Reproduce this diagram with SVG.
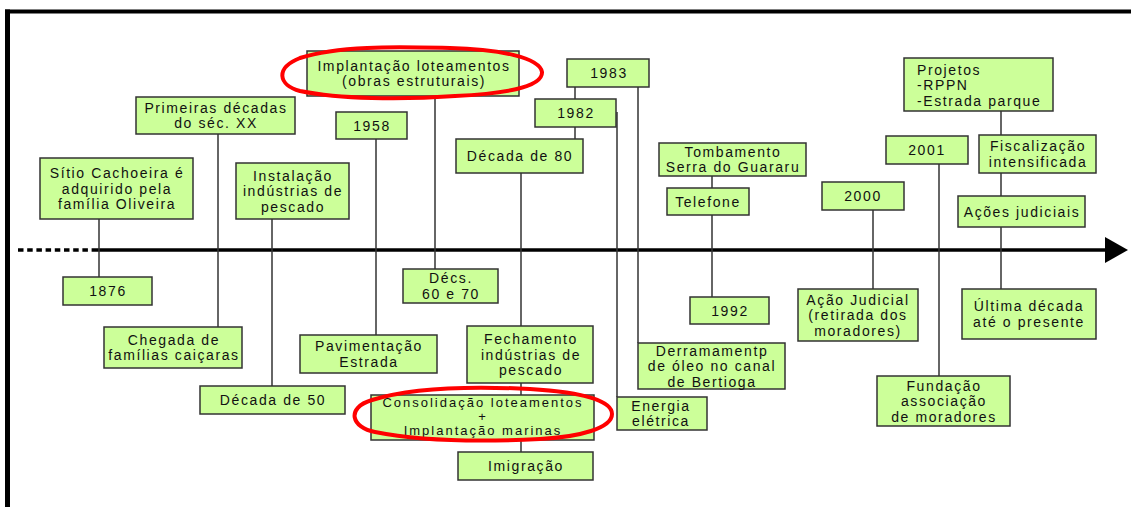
<svg xmlns="http://www.w3.org/2000/svg" width="1131" height="507" viewBox="0 0 1131 507">
<style>
.box rect{fill:#CCFF99;stroke:#333;stroke-width:1.5}
.box text{font-family:"Liberation Sans",Arial,sans-serif;font-size:14px;letter-spacing:1.6px;fill:#111;text-anchor:middle}
.box text.l{text-anchor:start}
.box text.s{font-size:13px;letter-spacing:2px}
#connectors line{stroke:#333;stroke-width:1.5}
.red{fill:none;stroke:#FF0000;stroke-width:4}
</style>
<rect width="1131" height="507" fill="#fff"/>
<g id="frame">
<line x1="7.5" y1="9.5" x2="7.5" y2="507" stroke="#000" stroke-width="5"/>
<line x1="5" y1="11.5" x2="1131" y2="11.5" stroke="#000" stroke-width="4"/>
</g>
<g id="axis">
<line x1="18" y1="250" x2="92" y2="250" stroke="#000" stroke-width="3.5" stroke-dasharray="5.5 3.7"/>
<line x1="92" y1="250" x2="1107" y2="250" stroke="#000" stroke-width="3.5"/>
<polygon points="1105,237 1128,250 1105,263" fill="#000"/>
</g>
<g id="connectors">
<line x1="99" y1="219" x2="99" y2="277"/>
<line x1="218" y1="134" x2="218" y2="327"/>
<line x1="272" y1="219" x2="272" y2="386"/>
<line x1="376" y1="139" x2="376" y2="335"/>
<line x1="435" y1="96" x2="435" y2="269"/>
<line x1="521" y1="173" x2="521" y2="326"/>
<line x1="521" y1="383" x2="521" y2="395"/>
<line x1="521" y1="440" x2="521" y2="452"/>
<line x1="575" y1="87" x2="575" y2="99"/>
<line x1="575" y1="127" x2="575" y2="139"/>
<line x1="617" y1="112" x2="617" y2="397"/>
<line x1="638" y1="87" x2="638" y2="343"/>
<line x1="712" y1="176" x2="712" y2="188"/>
<line x1="712" y1="215" x2="712" y2="297"/>
<line x1="873" y1="210" x2="873" y2="289"/>
<line x1="939" y1="164" x2="939" y2="376"/>
<line x1="1001" y1="111" x2="1001" y2="135"/>
<line x1="1001" y1="173" x2="1001" y2="196"/>
<line x1="1001" y1="227" x2="1001" y2="289"/>
</g>
<g id="n-sitio" class="box"><rect x="40" y="158" width="153" height="61"/><text x="117" y="178">Sítio Cachoeira é</text><text x="117" y="193.5">adquirido pela</text><text x="117" y="209">família Oliveira</text></g>
<g id="n-1876" class="box"><rect x="63" y="277" width="89" height="28"/><text x="108" y="296">1876</text></g>
<g id="n-primeiras" class="box"><rect x="136" y="97" width="159" height="37"/><text x="216" y="112.75">Primeiras décadas</text><text x="216" y="128.25">do séc. XX</text></g>
<g id="n-chegada" class="box"><rect x="104" y="327" width="138" height="41"/><text x="174" y="344.75">Chegada de</text><text x="174" y="360.25">famílias caiçaras</text></g>
<g id="n-instalacao" class="box"><rect x="236" y="163" width="113" height="56"/><text x="293" y="180.5">Instalação</text><text x="293" y="196">indústrias de</text><text x="293" y="211.5">pescado</text></g>
<g id="n-decada50" class="box"><rect x="200" y="386" width="145" height="28"/><text x="273" y="405">Década de 50</text></g>
<g id="n-1958" class="box"><rect x="336" y="112" width="71" height="27"/><text x="372" y="130.5">1958</text></g>
<g id="n-pavimentacao" class="box"><rect x="300" y="335" width="137" height="38"/><text x="369" y="351.25">Pavimentação</text><text x="369" y="366.75">Estrada</text></g>
<g id="n-implantacao" class="box"><rect x="307" y="51" width="212" height="45"/><text x="414" y="70.75">Implantação loteamentos</text><text x="414" y="86.25">(obras estruturais)</text></g>
<g id="n-decs" class="box"><rect x="403" y="269" width="95" height="34"/><text x="451" y="283.25">Décs.</text><text x="451" y="298.75">60 e 70</text></g>
<g id="n-decada80" class="box"><rect x="456" y="139" width="127" height="34"/><text x="520" y="161">Década de 80</text></g>
<g id="n-fechamento" class="box"><rect x="467" y="326" width="126" height="57"/><text x="531" y="344">Fechamento</text><text x="531" y="359.5">indústrias de</text><text x="531" y="375">pescado</text></g>
<g id="n-consolidacao" class="box"><rect x="371" y="395" width="223" height="45"/><text class="s" x="483" y="406.5">Consolidação loteamentos</text><text class="s" x="483" y="420.5">+</text><text class="s" x="483" y="434.5">Implantação marinas</text></g>
<g id="n-imigracao" class="box"><rect x="458" y="452" width="135" height="28"/><text x="526" y="471">Imigração</text></g>
<g id="n-1983" class="box"><rect x="567" y="59" width="82" height="28"/><text x="609" y="78">1983</text></g>
<g id="n-1982" class="box"><rect x="535" y="99" width="81" height="28"/><text x="576" y="118">1982</text></g>
<g id="n-energia" class="box"><rect x="617" y="397" width="90" height="33"/><text x="661" y="410.75">Energia</text><text x="661" y="426.25">elétrica</text></g>
<g id="n-derramamento" class="box"><rect x="638" y="343" width="147" height="46"/><text x="712" y="355.5">Derramamentp</text><text x="712" y="371">de óleo no canal</text><text x="712" y="386.5">de Bertioga</text></g>
<g id="n-tombamento" class="box"><rect x="659" y="143" width="147" height="33"/><text x="733" y="156.75">Tombamento</text><text x="733" y="172.25">Serra do Guararu</text></g>
<g id="n-telefone" class="box"><rect x="667" y="188" width="82" height="27"/><text x="708" y="206.5">Telefone</text></g>
<g id="n-1992" class="box"><rect x="690" y="297" width="79" height="27"/><text x="730" y="315.5">1992</text></g>
<g id="n-2000" class="box"><rect x="822" y="182" width="82" height="28"/><text x="863" y="201">2000</text></g>
<g id="n-acao" class="box"><rect x="798" y="289" width="120" height="52"/><text x="858" y="304.5">Ação Judicial</text><text x="858" y="320">(retirada dos</text><text x="858" y="335.5">moradores)</text></g>
<g id="n-2001" class="box"><rect x="886" y="136" width="82" height="28"/><text x="927" y="155">2001</text></g>
<g id="n-fundacao" class="box"><rect x="877" y="376" width="133" height="50"/><text x="944" y="390.5">Fundação</text><text x="944" y="406">associação</text><text x="944" y="421.5">de moradores</text></g>
<g id="n-projetos" class="box"><rect x="904" y="58" width="149" height="53"/><text class="l" x="917" y="74.5">Projetos</text><text class="l" x="917" y="90">-RPPN</text><text class="l" x="917" y="105.5">-Estrada parque</text></g>
<g id="n-fiscalizacao" class="box"><rect x="979" y="135" width="117" height="38"/><text x="1038" y="151.25">Fiscalização</text><text x="1038" y="166.75">intensificada</text></g>
<g id="n-acoes" class="box"><rect x="958" y="196" width="127" height="31"/><text x="1022" y="216.5">Ações judiciais</text></g>
<g id="n-ultima" class="box"><rect x="962" y="289" width="134" height="50"/><text x="1029" y="311.25">Última década</text><text x="1029" y="326.75">até o presente</text></g>
<path class="red" d="M300,58 C340,45 400,47 450,48 C500,49 540,58 542,72 C543,88 500,94 455,96 C400,100 340,99 300,91 C278,85 275,68 300,58 Z"/>
<path class="red" d="M372,400 C410,388 470,386 530,389 C580,392 612,400 612,414 C612,428 580,437 540,439 C480,442 420,441 375,432 C352,428 345,408 372,400 Z"/>
</svg>
